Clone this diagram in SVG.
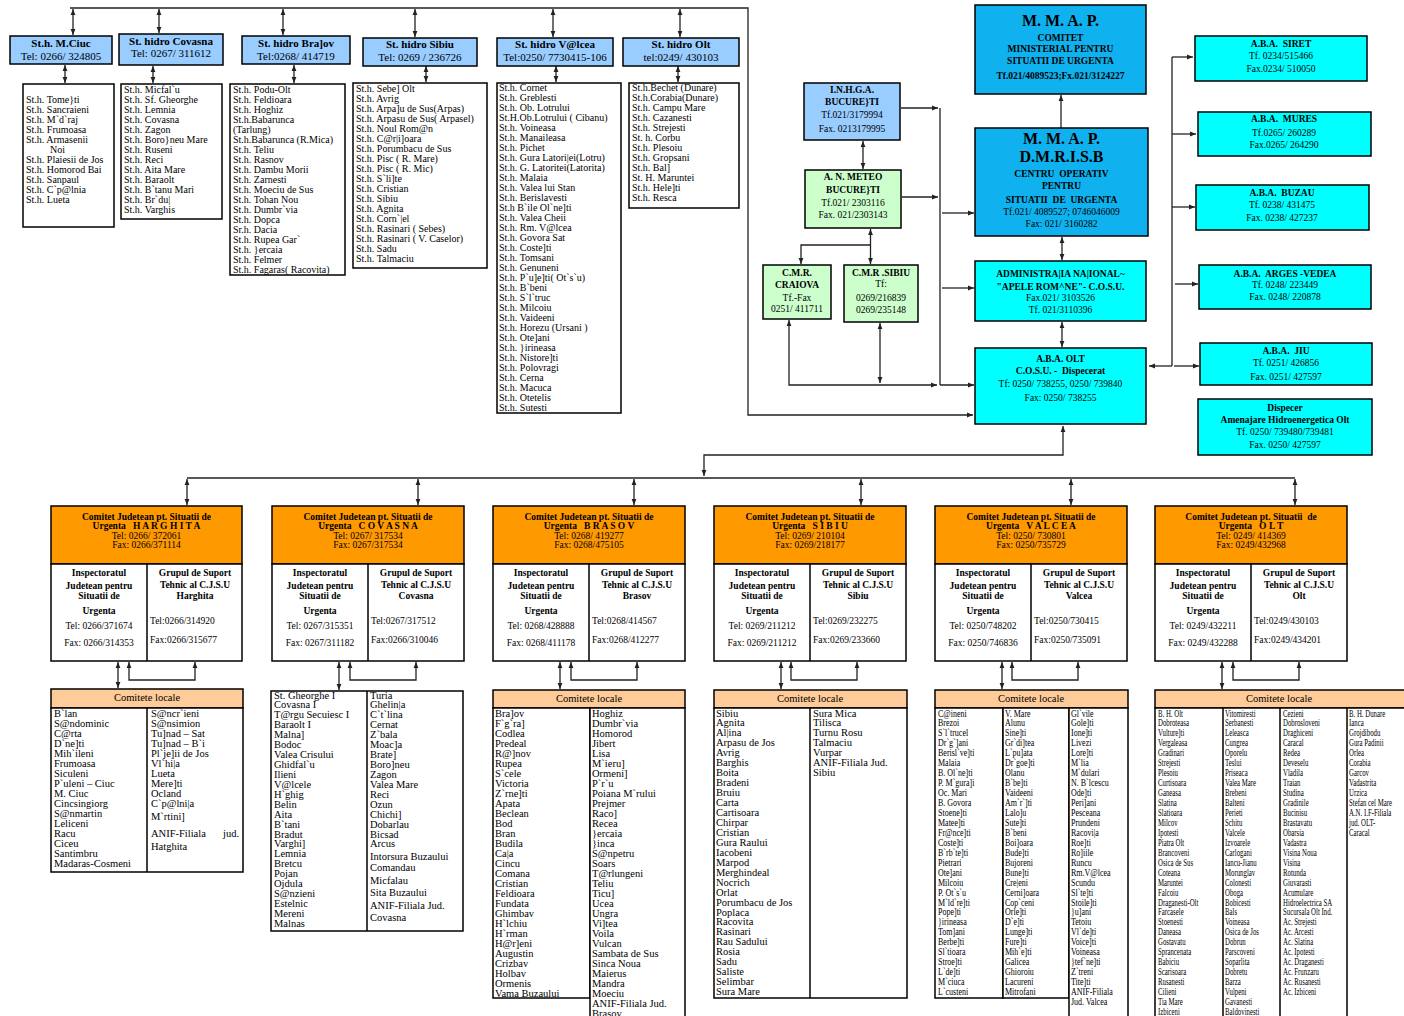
<svg xmlns="http://www.w3.org/2000/svg" width="1404" height="1016" viewBox="0 0 1404 1016">
<style>
text{font-family:"Liberation Serif","Times New Roman",serif;fill:#000;font-size:10px}
.bx{stroke:#000;stroke-width:1.5}
.lb{fill:#99CCFF}.gr{fill:#CCFFCC}.sb{fill:#0FB2EE}.cy{fill:#00FFFF}.or{fill:#FF9900}.ph{fill:#FFCC99}.wh{fill:#fff}
.c{text-anchor:middle}.b{font-weight:bold}
.t11{font-size:11px}.t95{font-size:9.5px}.t105{font-size:10.5px}.t15{font-size:16px}
.cn{stroke:#222;stroke-width:1.3;fill:none}
.ln{stroke:#000;stroke-width:1.5;fill:none}
</style>
<defs>
<marker id="a" viewBox="0 0 10 10" refX="10" refY="5" markerWidth="6" markerHeight="6" markerUnits="userSpaceOnUse" orient="auto-start-reverse"><path d="M0,1 L10,5 L0,9 z" fill="#222"/></marker>
</defs>
<rect width="1404" height="1016" fill="#fff"/>

<g id="connectors">
<path class="cn" d="M70,8 H748 V415 H973" marker-end="url(#a)"/>
<line class="cn" x1="73" y1="9" x2="73" y2="35" marker-start="url(#a)" marker-end="url(#a)"/>
<line class="cn" x1="159" y1="9" x2="159" y2="33" marker-start="url(#a)" marker-end="url(#a)"/>
<line class="cn" x1="283" y1="9" x2="283" y2="35" marker-start="url(#a)" marker-end="url(#a)"/>
<line class="cn" x1="415" y1="9" x2="415" y2="37" marker-start="url(#a)" marker-end="url(#a)"/>
<line class="cn" x1="553" y1="9" x2="553" y2="37" marker-start="url(#a)" marker-end="url(#a)"/>
<line class="cn" x1="680" y1="9" x2="680" y2="37" marker-start="url(#a)" marker-end="url(#a)"/>
<line class="cn" x1="65" y1="65" x2="65" y2="83" marker-start="url(#a)" marker-end="url(#a)"/>
<line class="cn" x1="153" y1="66" x2="153" y2="83" marker-start="url(#a)" marker-end="url(#a)"/>
<line class="cn" x1="294" y1="65" x2="294" y2="83" marker-start="url(#a)" marker-end="url(#a)"/>
<line class="cn" x1="426" y1="66" x2="426" y2="82" marker-start="url(#a)" marker-end="url(#a)"/>
<line class="cn" x1="556" y1="66" x2="556" y2="82" marker-start="url(#a)" marker-end="url(#a)"/>
<line class="cn" x1="678" y1="66" x2="678" y2="82" marker-start="url(#a)" marker-end="url(#a)"/>
<line class="cn" x1="1061" y1="128" x2="1061" y2="95" marker-end="url(#a)"/>
<line class="cn" x1="1062" y1="237" x2="1062" y2="260" marker-start="url(#a)" marker-end="url(#a)"/>
<line class="cn" x1="1062" y1="322" x2="1062" y2="347" marker-start="url(#a)" marker-end="url(#a)"/>
<line class="cn" x1="901" y1="108" x2="938" y2="108" marker-end="url(#a)"/>
<line class="cn" x1="940" y1="108" x2="940" y2="385"/>
<line class="cn" x1="902" y1="197" x2="938" y2="197" marker-end="url(#a)"/>
<line class="cn" x1="942" y1="213" x2="974" y2="213" marker-end="url(#a)"/>
<line class="cn" x1="942" y1="288" x2="974" y2="288" marker-end="url(#a)"/>
<line class="cn" x1="940" y1="385" x2="974" y2="385" marker-end="url(#a)"/>
<line class="cn" x1="863" y1="141" x2="863" y2="169" marker-start="url(#a)" marker-end="url(#a)"/>
<line class="cn" x1="870.5" y1="229" x2="870.5" y2="264" marker-start="url(#a)" marker-end="url(#a)"/>
<path class="cn" d="M870.5,245 H801 V264" marker-end="url(#a)"/>
<path class="cn" d="M789,320 V385 H937" marker-start="url(#a)" marker-end="url(#a)"/>
<line class="cn" x1="880" y1="323" x2="880" y2="383" marker-start="url(#a)" marker-end="url(#a)"/>
<line class="cn" x1="1172" y1="366" x2="1149" y2="366" marker-end="url(#a)"/>
<line class="cn" x1="1172" y1="57" x2="1172" y2="366"/>
<line class="cn" x1="1172" y1="57" x2="1193" y2="57" marker-end="url(#a)"/>
<line class="cn" x1="1172" y1="134" x2="1196" y2="134" marker-end="url(#a)"/>
<line class="cn" x1="1172" y1="207" x2="1195" y2="207" marker-end="url(#a)"/>
<line class="cn" x1="1175" y1="284" x2="1198" y2="284" marker-end="url(#a)"/>
<line class="cn" x1="1174" y1="366" x2="1199" y2="366" marker-end="url(#a)"/>
<path class="cn" d="M704,476 V455 H1063 V426" marker-start="url(#a)" marker-end="url(#a)"/>
<line class="cn" x1="187" y1="478" x2="1295" y2="478"/>
<line class="cn" x1="187" y1="479" x2="187" y2="505" marker-start="url(#a)" marker-end="url(#a)"/>
<line class="cn" x1="418" y1="479" x2="418" y2="505" marker-start="url(#a)" marker-end="url(#a)"/>
<line class="cn" x1="634" y1="479" x2="634" y2="505" marker-start="url(#a)" marker-end="url(#a)"/>
<line class="cn" x1="861" y1="479" x2="861" y2="505" marker-start="url(#a)" marker-end="url(#a)"/>
<line class="cn" x1="1071" y1="479" x2="1071" y2="505" marker-start="url(#a)" marker-end="url(#a)"/>
<line class="cn" x1="1295" y1="479" x2="1295" y2="505" marker-start="url(#a)" marker-end="url(#a)"/>
<line class="cn" x1="118" y1="662" x2="118" y2="688" marker-start="url(#a)" marker-end="url(#a)"/>
<path class="cn" d="M129,662 V680 H195 V662" marker-start="url(#a)" marker-end="url(#a)"/>
<line class="cn" x1="339" y1="662" x2="339" y2="690" marker-start="url(#a)" marker-end="url(#a)"/>
<path class="cn" d="M350,662 V680 H416 V662" marker-start="url(#a)" marker-end="url(#a)"/>
<line class="cn" x1="560" y1="662" x2="560" y2="689" marker-start="url(#a)" marker-end="url(#a)"/>
<path class="cn" d="M571,662 V680 H637 V662" marker-start="url(#a)" marker-end="url(#a)"/>
<line class="cn" x1="781" y1="662" x2="781" y2="689" marker-start="url(#a)" marker-end="url(#a)"/>
<path class="cn" d="M791,662 V680 H857 V662" marker-start="url(#a)" marker-end="url(#a)"/>
<line class="cn" x1="1002" y1="662" x2="1002" y2="689" marker-start="url(#a)" marker-end="url(#a)"/>
<path class="cn" d="M1012,662 V680 H1078 V662" marker-start="url(#a)" marker-end="url(#a)"/>
<line class="cn" x1="1222" y1="662" x2="1222" y2="689" marker-start="url(#a)" marker-end="url(#a)"/>
<path class="cn" d="M1233,662 V680 H1299 V662" marker-start="url(#a)" marker-end="url(#a)"/>
</g>

<g id="st-miercurea-ciuc">
<rect class="bx lb" x="10" y="36" width="102" height="28"/>
<text class="c b t11" x="61" y="47">St.h. M.Ciuc</text>
<text class="c t11" x="61" y="60">Tel: 0266/ 324805</text>
</g>
<g id="st-covasna">
<rect class="bx lb" x="119" y="34" width="104" height="31"/>
<text class="c b t11" x="171" y="45">St. hidro Covasna</text>
<text class="c t11" x="171" y="57">Tel: 0267/ 311612</text>
</g>
<g id="st-brasov">
<rect class="bx lb" x="242" y="36" width="108" height="28"/>
<text class="c b t11" x="296" y="47">St. hidro Bra]ov</text>
<text class="c t11" x="296" y="60">Tel:0268/ 414719</text>
</g>
<g id="st-sibiu">
<rect class="bx lb" x="363" y="38" width="114" height="28"/>
<text class="c b t11" x="420" y="48">St. hidro Sibiu</text>
<text class="c t11" x="420" y="61">Tel: 0269 / 236726</text>
</g>
<g id="st-valcea">
<rect class="bx lb" x="497" y="38" width="116" height="28"/>
<text class="c b t11" x="555" y="48">St. hidro V@lcea</text>
<text class="c t11" x="555" y="61">Tel:0250/ 7730415-106</text>
</g>
<g id="st-olt">
<rect class="bx lb" x="623" y="38" width="116" height="28"/>
<text class="c b t11" x="681" y="48">St. hidro Olt</text>
<text class="c t11" x="681" y="61">tel:0249/ 430103</text>
</g>

<g id="list-harghita-st">
<rect class="bx wh" x="23" y="84" width="91" height="143"/>
<text x="26" y="102.5"><tspan x="26">St.h. Tome}ti</tspan><tspan x="26" dy="10">St.h. Sancraieni</tspan><tspan x="26" dy="10">St.h. M`d`raj</tspan><tspan x="26" dy="10">St.h. Frumoasa</tspan><tspan x="26" dy="10">St.h. Armasenii</tspan><tspan x="50" dy="10">Noi</tspan><tspan x="26" dy="10">St.h. Plaiesii de Jos</tspan><tspan x="26" dy="10">St.h. Homorod Bai</tspan><tspan x="26" dy="10">St.h. Sanpaul</tspan><tspan x="26" dy="10">St.h. C`p@lnia</tspan><tspan x="26" dy="10">St.h. Lueta</tspan></text>
</g>
<g id="list-covasna-st">
<rect class="bx wh" x="121" y="84" width="101" height="135"/>
<text x="124" y="92.5"><tspan x="124">St.h. Micfal`u</tspan><tspan x="124" dy="10">St.h. Sf. Gheorghe</tspan><tspan x="124" dy="10">St.h. Lemnia</tspan><tspan x="124" dy="10">St.h. Covasna</tspan><tspan x="124" dy="10">St.h. Zagon</tspan><tspan x="124" dy="10">St.h. Boro}neu Mare</tspan><tspan x="124" dy="10">St.h. Ruseni</tspan><tspan x="124" dy="10">St.h. Reci</tspan><tspan x="124" dy="10">St.h. Aita Mare</tspan><tspan x="124" dy="10">St.h. Baraolt</tspan><tspan x="124" dy="10">St.h. B`tanu Mari</tspan><tspan x="124" dy="10">St.h. Br`du|</tspan><tspan x="124" dy="10">St.h. Varghis</tspan></text>
</g>
<g id="list-brasov-st">
<rect class="bx wh" x="230" y="84" width="115" height="191"/>
<text x="233" y="92.5"><tspan x="233">St.h. Podu-Olt</tspan><tspan x="233" dy="10">St.h. Feldioara</tspan><tspan x="233" dy="10">St.h. Hoghiz</tspan><tspan x="233" dy="10">St.h.Babarunca</tspan><tspan x="233" dy="10">(Tarlung)</tspan><tspan x="233" dy="10">St.h.Babarunca (R.Mica)</tspan><tspan x="233" dy="10">St.h. Teliu</tspan><tspan x="233" dy="10">St.h. Rasnov</tspan><tspan x="233" dy="10">St.h. Dambu Morii</tspan><tspan x="233" dy="10">St.h. Zarnesti</tspan><tspan x="233" dy="10">St.h. Moeciu de Sus</tspan><tspan x="233" dy="10">St.h. Tohan Nou</tspan><tspan x="233" dy="10">St.h. Dumbr`via</tspan><tspan x="233" dy="10">St.h. Dopca</tspan><tspan x="233" dy="10">Sr.h. Dacia</tspan><tspan x="233" dy="10">St.h. Rupea Gar`</tspan><tspan x="233" dy="10">St.h. }ercaia</tspan><tspan x="233" dy="10">St.h. Felmer</tspan><tspan x="233" dy="10">St.h. Fagaras( Racovita)</tspan></text>
</g>
<g id="list-sibiu-st">
<rect class="bx wh" x="353" y="83" width="134" height="185"/>
<text x="356" y="91.5"><tspan x="356">St.h. Sebe] Olt</tspan><tspan x="356" dy="10">St.h. Avrig</tspan><tspan x="356" dy="10">St.h. Arpa]u de Sus(Arpas)</tspan><tspan x="356" dy="10">St.h. Arpasu de Sus( Arpasel)</tspan><tspan x="356" dy="10">St.h. Noul Rom@n</tspan><tspan x="356" dy="10">St.h. C@r|i]oara</tspan><tspan x="356" dy="10">St.h. Porumbacu de Sus</tspan><tspan x="356" dy="10">St.h. Pisc ( R. Mare)</tspan><tspan x="356" dy="10">St.h. Pisc ( R. Mic)</tspan><tspan x="356" dy="10">St.h. S`li]te</tspan><tspan x="356" dy="10">St.h. Cristian</tspan><tspan x="356" dy="10">St.h. Sibiu</tspan><tspan x="356" dy="10">St.h. Agnita</tspan><tspan x="356" dy="10">St.h. Corn`|el</tspan><tspan x="356" dy="10">St.h. Rasinari ( Sebes)</tspan><tspan x="356" dy="10">St.h. Rasinari ( V. Caselor)</tspan><tspan x="356" dy="10">St.h. Sadu</tspan><tspan x="356" dy="10">St.h. Talmaciu</tspan></text>
</g>
<g id="list-valcea-st">
<rect class="bx wh" x="497" y="83" width="124" height="330"/>
<text x="499" y="90.5"><tspan x="499">St.h. Cornet</tspan><tspan x="499" dy="10">St.h. Greblesti</tspan><tspan x="499" dy="10">St.h. Ob. Lotrului</tspan><tspan x="499" dy="10">St.H.Ob.Lotrului ( Cibanu)</tspan><tspan x="499" dy="10">St.h. Voineasa</tspan><tspan x="499" dy="10">St.h. Manaileasa</tspan><tspan x="499" dy="10">St.h. Pichet</tspan><tspan x="499" dy="10">St.h. Gura Latori|ei(Lotru)</tspan><tspan x="499" dy="10">St.h. G. Latoritei(Latorita)</tspan><tspan x="499" dy="10">St.h. Malaia</tspan><tspan x="499" dy="10">St.h. Valea lui Stan</tspan><tspan x="499" dy="10">St.h. Berislavesti</tspan><tspan x="499" dy="10">St.h B`ile Ol`ne]ti</tspan><tspan x="499" dy="10">St.h. Valea Cheii</tspan><tspan x="499" dy="10">St.h. Rm. V@lcea</tspan><tspan x="499" dy="10">St.h. Govora Sat</tspan><tspan x="499" dy="10">St.h. Coste]ti</tspan><tspan x="499" dy="10">St.h. Tomsani</tspan><tspan x="499" dy="10">St.h. Genuneni</tspan><tspan x="499" dy="10">St.h. P`u]e]ti( Ot`s`u)</tspan><tspan x="499" dy="10">St.h. B`beni</tspan><tspan x="499" dy="10">St.h. S`l`truc</tspan><tspan x="499" dy="10">St.h. Milcoiu</tspan><tspan x="499" dy="10">St.h. Vaideeni</tspan><tspan x="499" dy="10">St.h. Horezu (Ursani )</tspan><tspan x="499" dy="10">St.h. Ote]ani</tspan><tspan x="499" dy="10">St.h. }irineasa</tspan><tspan x="499" dy="10">St.h. Nistore]ti</tspan><tspan x="499" dy="10">St.h. Polovragi</tspan><tspan x="499" dy="10">St.h. Cerna</tspan><tspan x="499" dy="10">St.h. Macuca</tspan><tspan x="499" dy="10">St.h. Otetelis</tspan><tspan x="499" dy="10">St.h. Sutesti</tspan></text>
</g>
<g id="list-olt-st">
<rect class="bx wh" x="629" y="83" width="110" height="125"/>
<text x="632" y="90.5"><tspan x="632">St.h.Bechet (Dunare)</tspan><tspan x="632" dy="10">St.h.Corabia(Dunare)</tspan><tspan x="632" dy="10">St.h. Campu Mare</tspan><tspan x="632" dy="10">St.h. Cazanesti</tspan><tspan x="632" dy="10">St.h. Strejesti</tspan><tspan x="632" dy="10">St. h. Corbu</tspan><tspan x="632" dy="10">St.h. Plesoiu</tspan><tspan x="632" dy="10">St.h. Gropsani</tspan><tspan x="632" dy="10">St.h. Bal]</tspan><tspan x="632" dy="10">St. H. Maruntei</tspan><tspan x="632" dy="10">St.h. Hele]ti</tspan><tspan x="632" dy="10">St.h. Resca</tspan></text>
</g>

<g id="mmap-comitet">
<rect class="bx sb" x="975" y="5" width="171" height="89"/>
<text class="c b t15" x="1060.5" y="26">M. M. A. P.</text>
<text class="c b t95" x="1060.5" y="40.5">COMITET</text>
<text class="c b t95" x="1060.5" y="52">MINISTERIAL PENTRU</text>
<text class="c b t95" x="1060.5" y="64">SITUATII DE URGENTA</text>
<text class="c b t95" x="1060.5" y="78.5">Tf.021/4089523;Fx.021/3124227</text>
</g>
<g id="mmap-dmrisb">
<rect class="bx sb" x="975" y="128" width="173" height="108"/>
<text class="c b t15" x="1061.5" y="144">M. M. A. P.</text>
<text class="c b t15" x="1061.5" y="162">D.M.R.I.S.B</text>
<text class="c b t95" x="1061.5" y="176.5">CENTRU&#160; OPERATIV</text>
<text class="c b t95" x="1061.5" y="188.5">PENTRU</text>
<text class="c b t95" x="1061.5" y="202.5">SITUATII&#160; DE&#160; URGENTA</text>
<text class="c t95" x="1061.5" y="214.5">Tf.021/ 4089527; 0746046009</text>
<text class="c t95" x="1061.5" y="226.5">Fax: 021/ 3160282</text>
</g>
<g id="anar">
<rect class="bx cy" x="975" y="261" width="171" height="60"/>
<text class="c b t95" x="1060.5" y="276.5">ADMINISTRA|IA NA|IONAL~</text>
<text class="c b t95" x="1060.5" y="289.5">"APELE ROM^NE"- C.O.S.U.</text>
<text class="c t95" x="1060.5" y="300.5">Fax.021/ 3103526</text>
<text class="c t95" x="1060.5" y="312.5">Tf. 021/3110396</text>
</g>
<g id="aba-olt">
<rect class="bx cy" x="975" y="348" width="171" height="76"/>
<text class="c b t95" x="1060.5" y="361.5">A.B.A. OLT</text>
<text class="c b t95" x="1060.5" y="373.5">C.O.S.U. -&#160; Dispecerat</text>
<text class="c t95" x="1060.5" y="386.5">Tf: 0250/ 738255, 0250/ 739840</text>
<text class="c t95" x="1060.5" y="400.5">Fax: 0250/ 738255</text>
</g>
<g id="inhga">
<rect class="bx lb" x="804" y="83" width="96" height="57"/>
<text class="c b t95" x="852" y="92.5">I.N.H.G.A.</text>
<text class="c b t95" x="852" y="104.5">BUCURE}TI</text>
<text class="c t95" x="852" y="117.5">Tf.021/3179994</text>
<text class="c t95" x="852" y="131.5">Fax. 0213179995</text>
</g>
<g id="anmeteo">
<rect class="bx gr" x="805" y="170" width="96" height="58"/>
<text class="c b t95" x="853" y="179.5">A. N. METEO</text>
<text class="c b t95" x="853" y="192.5">BUCURE}TI</text>
<text class="c t95" x="853" y="205.5">Tf.021/ 2303116</text>
<text class="c t95" x="853" y="217.5">Fax. 021/2303143</text>
</g>
<g id="cmr-craiova">
<rect class="bx gr" x="763" y="265" width="68" height="54"/>
<text class="c b t95" x="797" y="275.5">C.M.R.</text>
<text class="c b t95" x="797" y="287.5">CRAIOVA</text>
<text class="c t95" x="797" y="300.5">Tf.-Fax</text>
<text class="c t95" x="797" y="311.5">0251/ 411711</text>
</g>
<g id="cmr-sibiu">
<rect class="bx gr" x="844" y="265" width="74" height="57"/>
<text class="c b t95" x="881" y="275.5">C.M.R .SIBIU</text>
<text class="c t95" x="881" y="286.5">Tf:</text>
<text class="c t95" x="881" y="300.5">0269/216839</text>
<text class="c t95" x="881" y="312.5">0269/235148</text>
</g>

<g id="aba-siret">
<rect class="bx cy" x="1195" y="36" width="172" height="45"/>
<text class="c b t95" x="1281" y="46.5">A.B.A.&#160; SIRET</text>
<text class="c t95" x="1281" y="58.5">Tf. 0234/515466</text>
<text class="c t95" x="1281" y="71.5">Fax.0234/ 510050</text>
</g>
<g id="aba-mures">
<rect class="bx cy" x="1198" y="112" width="173" height="44"/>
<text class="c b t95" x="1284" y="121.5">A.B.A.&#160; MURES</text>
<text class="c t95" x="1284" y="135.5">Tf.0265/ 260289</text>
<text class="c t95" x="1284" y="147.5">Fax.0265/ 264290</text>
</g>
<g id="aba-buzau">
<rect class="bx cy" x="1196" y="185" width="173" height="45"/>
<text class="c b t95" x="1282" y="195.5">A.B.A.&#160; BUZAU</text>
<text class="c t95" x="1282" y="207.5">Tf. 0238/ 431475</text>
<text class="c t95" x="1282" y="220.5">Fax. 0238/ 427237</text>
</g>
<g id="aba-arges">
<rect class="bx cy" x="1199" y="265" width="172" height="44"/>
<text class="c b t95" x="1285" y="276.5">A.B.A.&#160; ARGES -VEDEA</text>
<text class="c t95" x="1285" y="287.5">Tf. 0248/ 223449</text>
<text class="c t95" x="1285" y="299.5">Fax. 0248/ 220878</text>
</g>
<g id="aba-jiu">
<rect class="bx cy" x="1200" y="343" width="172" height="42"/>
<text class="c b t95" x="1286" y="353.5">A.B.A.&#160; JIU</text>
<text class="c t95" x="1286" y="365.5">Tf. 0251/ 426856</text>
<text class="c t95" x="1286" y="379.5">Fax. 0251/ 427597</text>
</g>
<g id="dispecer">
<rect class="bx cy" x="1198" y="399" width="174" height="56"/>
<text class="c b t95" x="1285" y="410.5">Dispecer</text>
<text class="c b t95" x="1285" y="422.5">Amenajare Hidroenergetica Olt</text>
<text class="c t95" x="1285" y="434.5">Tf. 0250/ 739480/739481</text>
<text class="c t95" x="1285" y="447.5">Fax. 0250/ 427597</text>
</g>

<g id="cjsu-harghita">
<rect class="bx or" x="51" y="506" width="191" height="58"/>
<rect class="bx wh" x="51" y="564" width="191" height="97"/>
<line class="ln" x1="147" y1="564" x2="147" y2="661"/>
<text class="c b t95" x="146.5" y="519.5">Comitet Judetean pt. Situatii de</text>
<text class="c b t95" x="146.5" y="528.5">Urgenta&#160;&#160; H A R G H I T A</text>
<text class="c t95" x="146.5" y="538.5">Tel: 0266/ 372061</text>
<text class="c t95" x="146.5" y="547.5">Fax: 0266/371114</text>
<text class="c b t95" x="99" y="575.5">Inspectoratul</text>
<text class="c b t95" x="99" y="588.5">Judetean pentru</text>
<text class="c b t95" x="99" y="599">Situatii de</text>
<text class="c b t95" x="99" y="613.5">Urgenta</text>
<text class="c t95" x="99" y="629">Tel: 0266/371674</text>
<text class="c t95" x="99" y="645.5">Fax: 0266/314353</text>
<text class="c b t95" x="195" y="575.5">Grupul de Suport</text>
<text class="c b t95" x="195" y="587.5">Tehnic al C.J.S.U</text>
<text class="c b t95" x="195" y="598.5">Harghita</text>
<text class="t95" x="150" y="624">Tel:0266/314920</text>
<text class="t95" x="150" y="642.5">Fax:0266/315677</text>
</g>
<g id="cjsu-covasna">
<rect class="bx or" x="272" y="506" width="192" height="58"/>
<rect class="bx wh" x="272" y="564" width="192" height="97"/>
<line class="ln" x1="368" y1="564" x2="368" y2="661"/>
<text class="c b t95" x="368" y="519.5">Comitet Judetean pt. Situatii de</text>
<text class="c b t95" x="368" y="528.5">Urgenta&#160;&#160; C O V A S N A</text>
<text class="c t95" x="368" y="538.5">Tel: 0267/ 317534</text>
<text class="c t95" x="368" y="547.5">Fax: 0267/317534</text>
<text class="c b t95" x="320" y="575.5">Inspectoratul</text>
<text class="c b t95" x="320" y="588.5">Judetean pentru</text>
<text class="c b t95" x="320" y="599">Situatii de</text>
<text class="c b t95" x="320" y="613.5">Urgenta</text>
<text class="c t95" x="320" y="629">Tel: 0267/315351</text>
<text class="c t95" x="320" y="645.5">Fax: 0267/311182</text>
<text class="c b t95" x="416" y="575.5">Grupul de Suport</text>
<text class="c b t95" x="416" y="587.5">Tehnic al C.J.S.U</text>
<text class="c b t95" x="416" y="598.5">Covasna</text>
<text class="t95" x="371" y="624">Tel:0267/317512</text>
<text class="t95" x="371" y="642.5">Fax:0266/310046</text>
</g>
<g id="cjsu-brasov">
<rect class="bx or" x="493" y="506" width="192" height="58"/>
<rect class="bx wh" x="493" y="564" width="192" height="97"/>
<line class="ln" x1="589" y1="564" x2="589" y2="661"/>
<text class="c b t95" x="589" y="519.5">Comitet Judetean pt. Situatii de</text>
<text class="c b t95" x="589" y="528.5">Urgenta&#160;&#160; B R A S O V</text>
<text class="c t95" x="589" y="538.5">Tel: 0268/ 419277</text>
<text class="c t95" x="589" y="547.5">Fax: 0268/475105</text>
<text class="c b t95" x="541" y="575.5">Inspectoratul</text>
<text class="c b t95" x="541" y="588.5">Judetean pentru</text>
<text class="c b t95" x="541" y="599">Situatii de</text>
<text class="c b t95" x="541" y="613.5">Urgenta</text>
<text class="c t95" x="541" y="629">Tel: 0268/428888</text>
<text class="c t95" x="541" y="645.5">Fax: 0268/411178</text>
<text class="c b t95" x="637" y="575.5">Grupul de Suport</text>
<text class="c b t95" x="637" y="587.5">Tehnic al C.J.S.U</text>
<text class="c b t95" x="637" y="598.5">Brasov</text>
<text class="t95" x="592" y="624">Tel:0268/414567</text>
<text class="t95" x="592" y="642.5">Fax:0268/412277</text>
</g>
<g id="cjsu-sibiu">
<rect class="bx or" x="714" y="506" width="192" height="58"/>
<rect class="bx wh" x="714" y="564" width="192" height="97"/>
<line class="ln" x1="810" y1="564" x2="810" y2="661"/>
<text class="c b t95" x="810" y="519.5">Comitet Judetean pt. Situatii de</text>
<text class="c b t95" x="810" y="528.5">Urgenta&#160;&#160; S I B I U</text>
<text class="c t95" x="810" y="538.5">Tel: 0269/ 210104</text>
<text class="c t95" x="810" y="547.5">Fax: 0269/218177</text>
<text class="c b t95" x="762" y="575.5">Inspectoratul</text>
<text class="c b t95" x="762" y="588.5">Judetean pentru</text>
<text class="c b t95" x="762" y="599">Situatii de</text>
<text class="c b t95" x="762" y="613.5">Urgenta</text>
<text class="c t95" x="762" y="629">Tel: 0269/211212</text>
<text class="c t95" x="762" y="645.5">Fax: 0269/211212</text>
<text class="c b t95" x="858" y="575.5">Grupul de Suport</text>
<text class="c b t95" x="858" y="587.5">Tehnic al C.J.S.U</text>
<text class="c b t95" x="858" y="598.5">Sibiu</text>
<text class="t95" x="813" y="624">Tel:0269/232275</text>
<text class="t95" x="813" y="642.5">Fax:0269/233660</text>
</g>
<g id="cjsu-valcea">
<rect class="bx or" x="935" y="506" width="192" height="58"/>
<rect class="bx wh" x="935" y="564" width="192" height="97"/>
<line class="ln" x1="1031" y1="564" x2="1031" y2="661"/>
<text class="c b t95" x="1031" y="519.5">Comitet Judetean pt. Situatii de</text>
<text class="c b t95" x="1031" y="528.5">Urgenta&#160;&#160; V A L C E A</text>
<text class="c t95" x="1031" y="538.5">Tel: 0250/ 730801</text>
<text class="c t95" x="1031" y="547.5">Fax: 0250/735729</text>
<text class="c b t95" x="983" y="575.5">Inspectoratul</text>
<text class="c b t95" x="983" y="588.5">Judetean pentru</text>
<text class="c b t95" x="983" y="599">Situatii de</text>
<text class="c b t95" x="983" y="613.5">Urgenta</text>
<text class="c t95" x="983" y="629">Tel: 0250/748202</text>
<text class="c t95" x="983" y="645.5">Fax: 0250/746836</text>
<text class="c b t95" x="1079" y="575.5">Grupul de Suport</text>
<text class="c b t95" x="1079" y="587.5">Tehnic al C.J.S.U</text>
<text class="c b t95" x="1079" y="598.5">Valcea</text>
<text class="t95" x="1034" y="624">Tel:0250/730415</text>
<text class="t95" x="1034" y="642.5">Fax:0250/735091</text>
</g>
<g id="cjsu-olt">
<rect class="bx or" x="1155" y="506" width="192" height="58"/>
<rect class="bx wh" x="1155" y="564" width="192" height="97"/>
<line class="ln" x1="1251" y1="564" x2="1251" y2="661"/>
<text class="c b t95" x="1251" y="519.5">Comitet Judetean pt. Situatii&#160; de</text>
<text class="c b t95" x="1251" y="528.5">Urgenta&#160;&#160; O L T</text>
<text class="c t95" x="1251" y="538.5">Tel: 0249/ 414369</text>
<text class="c t95" x="1251" y="547.5">Fax: 0249/432968</text>
<text class="c b t95" x="1203" y="575.5">Inspectoratul</text>
<text class="c b t95" x="1203" y="588.5">Judetean pentru</text>
<text class="c b t95" x="1203" y="599">Situatii de</text>
<text class="c b t95" x="1203" y="613.5">Urgenta</text>
<text class="c t95" x="1203" y="629">Tel: 0249/432211</text>
<text class="c t95" x="1203" y="645.5">Fax: 0249/432288</text>
<text class="c b t95" x="1299" y="575.5">Grupul de Suport</text>
<text class="c b t95" x="1299" y="587.5">Tehnic al C.J.S.U</text>
<text class="c b t95" x="1299" y="598.5">Olt</text>
<text class="t95" x="1254" y="624">Tel:0249/430103</text>
<text class="t95" x="1254" y="642.5">Fax:0249/434201</text>
</g>

<g id="cl-harghita">
<rect class="bx ph" x="51" y="689" width="192" height="19"/>
<rect class="bx wh" x="51" y="708" width="192" height="164"/>
<line class="ln" x1="147" y1="708" x2="147" y2="872"/>
<text class="c t105" x="147" y="701">Comitete locale</text>
<text class="t105" x="54" y="716.5"><tspan x="54">B`lan</tspan><tspan x="54" dy="10">S@ndominic</tspan><tspan x="54" dy="10">C@rta</tspan><tspan x="54" dy="10">D`ne]ti</tspan><tspan x="54" dy="10">Mih`ileni</tspan><tspan x="54" dy="10">Frumoasa</tspan><tspan x="54" dy="10">Siculeni</tspan><tspan x="54" dy="10">P`uleni – Ciuc</tspan><tspan x="54" dy="10">M. Ciuc</tspan><tspan x="54" dy="10">Cincsingiorg</tspan><tspan x="54" dy="10">S@nmartin</tspan><tspan x="54" dy="10">Leliceni</tspan><tspan x="54" dy="10">Racu</tspan><tspan x="54" dy="10">Ciceu</tspan><tspan x="54" dy="10">Santimbru</tspan><tspan x="54" dy="10">Madaras-Cosmeni</tspan></text>
<text class="t105" x="151" y="716.5"><tspan x="151">S@ncr`ieni</tspan><tspan x="151" dy="10">S@nsimion</tspan><tspan x="151" dy="10">Tu]nad – Sat</tspan><tspan x="151" dy="10">Tu]nad – B`i</tspan><tspan x="151" dy="10">Pl`je]ii de Jos</tspan><tspan x="151" dy="10">Vl`hi|a</tspan><tspan x="151" dy="10">Lueta</tspan><tspan x="151" dy="10">Mere]ti</tspan><tspan x="151" dy="10">Ocland</tspan><tspan x="151" dy="10">C`p@lni|a</tspan><tspan x="151" dy="13">M`rtini]</tspan><tspan x="151" dy="17">ANIF-Filiala</tspan><tspan x="151" dy="13">Hatghita</tspan></text>
<text class="t105" x="223" y="836.5">jud.</text>
</g>
<g id="cl-covasna">
<rect class="bx wh" x="271" y="691" width="192" height="240"/>
<line class="ln" x1="367" y1="691" x2="367" y2="931"/>
<text class="t105" x="274" y="698.5"><tspan x="274">St. Gheorghe I</tspan><tspan x="274" dy="9.93">Covasna I</tspan><tspan x="274" dy="9.93">T@rgu Secuiesc I</tspan><tspan x="274" dy="9.93">Baraolt I</tspan><tspan x="274" dy="9.93">Malna]</tspan><tspan x="274" dy="9.93">Bodoc</tspan><tspan x="274" dy="9.93">Valea Crisului</tspan><tspan x="274" dy="9.93">Ghidfal`u</tspan><tspan x="274" dy="9.93">Ilieni</tspan><tspan x="274" dy="9.93">V@lcele</tspan><tspan x="274" dy="9.93">H`ghig</tspan><tspan x="274" dy="9.93">Belin</tspan><tspan x="274" dy="9.93">Aita</tspan><tspan x="274" dy="9.93">B`tani</tspan><tspan x="274" dy="9.93">Bradut</tspan><tspan x="274" dy="9.93">Varghi]</tspan><tspan x="274" dy="9.93">Lemnia</tspan><tspan x="274" dy="9.93">Bretcu</tspan><tspan x="274" dy="9.93">Pojan</tspan><tspan x="274" dy="9.93">Ojdula</tspan><tspan x="274" dy="9.93">S@nzieni</tspan><tspan x="274" dy="9.93">Estelnic</tspan><tspan x="274" dy="9.93">Mereni</tspan><tspan x="274" dy="9.93">Malnas</tspan></text>
<text class="t105" x="370" y="698.5"><tspan x="370">Turia</tspan><tspan x="370" dy="9.93">Ghelin|a</tspan><tspan x="370" dy="9.93">C`t`lina</tspan><tspan x="370" dy="9.93">Cernat</tspan><tspan x="370" dy="9.93">Z`bala</tspan><tspan x="370" dy="9.93">Moac]a</tspan><tspan x="370" dy="9.93">Brate]</tspan><tspan x="370" dy="9.93">Boro]neu</tspan><tspan x="370" dy="9.93">Zagon</tspan><tspan x="370" dy="9.93">Valea Mare</tspan><tspan x="370" dy="9.93">Reci</tspan><tspan x="370" dy="9.93">Ozun</tspan><tspan x="370" dy="9.93">Chichi]</tspan><tspan x="370" dy="9.93">Dobarlau</tspan><tspan x="370" dy="9.93">Bicsad</tspan><tspan x="370" dy="9.93">Arcus</tspan><tspan x="370" dy="12.5">Intorsura Buzaului</tspan><tspan x="370" dy="11.5">Comandau</tspan><tspan x="370" dy="13">Micfalau</tspan><tspan x="370" dy="12">Sita Buzaului</tspan><tspan x="370" dy="13">ANIF-Filiala Jud.</tspan><tspan x="370" dy="12">Covasna</tspan></text>
</g>
<g id="cl-brasov">
<rect class="bx ph" x="493" y="690" width="192" height="18"/>
<rect class="bx wh" x="493" y="708" width="97" height="290"/>
<rect class="bx wh" x="590" y="708" width="95" height="320"/>
<text class="c t105" x="589" y="702">Comitete locale</text>
<text class="t105" x="495" y="716.5"><tspan x="495">Bra]ov</tspan><tspan x="495" dy="10">F`g`ra]</tspan><tspan x="495" dy="10">Codlea</tspan><tspan x="495" dy="10">Predeal</tspan><tspan x="495" dy="10">R@]nov</tspan><tspan x="495" dy="10">Rupea</tspan><tspan x="495" dy="10">S`cele</tspan><tspan x="495" dy="10">Victoria</tspan><tspan x="495" dy="10">Z`rne]ti</tspan><tspan x="495" dy="10">Apata</tspan><tspan x="495" dy="10">Beclean</tspan><tspan x="495" dy="10">Bod</tspan><tspan x="495" dy="10">Bran</tspan><tspan x="495" dy="10">Budila</tspan><tspan x="495" dy="10">Ca|a</tspan><tspan x="495" dy="10">Cincu</tspan><tspan x="495" dy="10">Comana</tspan><tspan x="495" dy="10">Cristian</tspan><tspan x="495" dy="10">Feldioara</tspan><tspan x="495" dy="10">Fundata</tspan><tspan x="495" dy="10">Ghimbav</tspan><tspan x="495" dy="10">H`lchiu</tspan><tspan x="495" dy="10">H`rman</tspan><tspan x="495" dy="10">H@r]eni</tspan><tspan x="495" dy="10">Augustin</tspan><tspan x="495" dy="10">Crizbav</tspan><tspan x="495" dy="10">Holbav</tspan><tspan x="495" dy="10">Ormenis</tspan><tspan x="495" dy="10">Vama Buzaului</tspan></text>
<text class="t105" x="592" y="716.5"><tspan x="592">Hoghiz</tspan><tspan x="592" dy="10">Dumbr`via</tspan><tspan x="592" dy="10">Homorod</tspan><tspan x="592" dy="10">Jibert</tspan><tspan x="592" dy="10">Lisa</tspan><tspan x="592" dy="10">M`ieru]</tspan><tspan x="592" dy="10">Ormeni]</tspan><tspan x="592" dy="10">P`r`u</tspan><tspan x="592" dy="10">Poiana M`rului</tspan><tspan x="592" dy="10">Prejmer</tspan><tspan x="592" dy="10">Raco]</tspan><tspan x="592" dy="10">Recea</tspan><tspan x="592" dy="10">}ercaia</tspan><tspan x="592" dy="10">}inca</tspan><tspan x="592" dy="10">S@npetru</tspan><tspan x="592" dy="10">Soars</tspan><tspan x="592" dy="10">T@rlungeni</tspan><tspan x="592" dy="10">Teliu</tspan><tspan x="592" dy="10">Ticu]</tspan><tspan x="592" dy="10">Ucea</tspan><tspan x="592" dy="10">Ungra</tspan><tspan x="592" dy="10">Vi]tea</tspan><tspan x="592" dy="10">Voila</tspan><tspan x="592" dy="10">Vulcan</tspan><tspan x="592" dy="10">Sambata de Sus</tspan><tspan x="592" dy="10">Sinca Noua</tspan><tspan x="592" dy="10">Maierus</tspan><tspan x="592" dy="10">Mandra</tspan><tspan x="592" dy="10">Moeciu</tspan><tspan x="592" dy="10">ANIF-Filiala Jud.</tspan><tspan x="592" dy="10">Brasov</tspan></text>
</g>
<g id="cl-sibiu">
<rect class="bx ph" x="714" y="690" width="193" height="18"/>
<rect class="bx wh" x="714" y="708" width="193" height="290"/>
<line class="ln" x1="810" y1="708" x2="810" y2="998"/>
<text class="c t105" x="810" y="702">Comitete locale</text>
<text class="t105" x="716" y="716.5"><tspan x="716">Sibiu</tspan><tspan x="716" dy="9.95">Agnita</tspan><tspan x="716" dy="9.95">Al|ina</tspan><tspan x="716" dy="9.95">Arpasu de Jos</tspan><tspan x="716" dy="9.95">Avrig</tspan><tspan x="716" dy="9.95">Barghis</tspan><tspan x="716" dy="9.95">Boita</tspan><tspan x="716" dy="9.95">Bradeni</tspan><tspan x="716" dy="9.95">Bruiu</tspan><tspan x="716" dy="9.95">Carta</tspan><tspan x="716" dy="9.95">Cartisoara</tspan><tspan x="716" dy="9.95">Chirpar</tspan><tspan x="716" dy="9.95">Cristian</tspan><tspan x="716" dy="9.95">Gura Raului</tspan><tspan x="716" dy="9.95">Iacobeni</tspan><tspan x="716" dy="9.95">Marpod</tspan><tspan x="716" dy="9.95">Merghindeal</tspan><tspan x="716" dy="9.95">Nocrich</tspan><tspan x="716" dy="9.95">Orlat</tspan><tspan x="716" dy="9.95">Porumbacu de Jos</tspan><tspan x="716" dy="9.95">Poplaca</tspan><tspan x="716" dy="9.95">Racovita</tspan><tspan x="716" dy="9.95">Rasinari</tspan><tspan x="716" dy="9.95">Rau Sadului</tspan><tspan x="716" dy="9.95">Rosia</tspan><tspan x="716" dy="9.95">Sadu</tspan><tspan x="716" dy="9.95">Saliste</tspan><tspan x="716" dy="9.95">Selimbar</tspan><tspan x="716" dy="9.95">Sura Mare</tspan></text>
<text class="t105" x="813" y="716.5"><tspan x="813">Sura Mica</tspan><tspan x="813" dy="9.95">Tilisca</tspan><tspan x="813" dy="9.95">Turnu Rosu</tspan><tspan x="813" dy="9.95">Talmaciu</tspan><tspan x="813" dy="9.95">Vurpar</tspan><tspan x="813" dy="9.95">ANIF-Filiala Jud.</tspan><tspan x="813" dy="9.95">Sibiu</tspan></text>
</g>
<g id="cl-valcea">
<rect class="bx ph" x="935" y="690" width="193" height="18"/>
<rect class="bx wh" x="935" y="708" width="68" height="290"/>
<rect class="bx wh" x="1003" y="708" width="66" height="290"/>
<rect class="bx wh" x="1069" y="708" width="59" height="320"/>
<text class="c t105" x="1031" y="702">Comitete locale</text>
<text transform="translate(938,716.5) scale(0.8,1)"><tspan x="0" y="0">C@ineni</tspan><tspan x="0" dy="9.95">Brezoi</tspan><tspan x="0" dy="9.95">S`l`trucel</tspan><tspan x="0" dy="9.95">Dr`g`]ani</tspan><tspan x="0" dy="9.95">Berisl`ve]ti</tspan><tspan x="0" dy="9.95">Malaia</tspan><tspan x="0" dy="9.95">B. Ol`ne]ti</tspan><tspan x="0" dy="9.95">P. M`gura]i</tspan><tspan x="0" dy="9.95">Oc. Mari</tspan><tspan x="0" dy="9.95">B. Govora</tspan><tspan x="0" dy="9.95">Stoene]ti</tspan><tspan x="0" dy="9.95">Matee]ti</tspan><tspan x="0" dy="9.95">Fr@nce]ti</tspan><tspan x="0" dy="9.95">Coste]ti</tspan><tspan x="0" dy="9.95">B`rb`te]ti</tspan><tspan x="0" dy="9.95">Pietrari</tspan><tspan x="0" dy="9.95">Ote]ani</tspan><tspan x="0" dy="9.95">Milcoiu</tspan><tspan x="0" dy="9.95">P. Ot`s`u</tspan><tspan x="0" dy="9.95">M`ld`re]ti</tspan><tspan x="0" dy="9.95">Pope]ti</tspan><tspan x="0" dy="9.95">}irineasa</tspan><tspan x="0" dy="9.95">Tom]ani</tspan><tspan x="0" dy="9.95">Berbe]ti</tspan><tspan x="0" dy="9.95">Sl`tioara</tspan><tspan x="0" dy="9.95">Stroe]ti</tspan><tspan x="0" dy="9.95">L`de]ti</tspan><tspan x="0" dy="9.95">M`ciuca</tspan><tspan x="0" dy="9.95">L`custeni</tspan></text>
<text transform="translate(1005,716.5) scale(0.8,1)"><tspan x="0" y="0">V. Mare</tspan><tspan x="0" dy="9.95">Alunu</tspan><tspan x="0" dy="9.95">Sine]ti</tspan><tspan x="0" dy="9.95">Gr`di]tea</tspan><tspan x="0" dy="9.95">L`pu]ata</tspan><tspan x="0" dy="9.95">Dr`goe]ti</tspan><tspan x="0" dy="9.95">Olanu</tspan><tspan x="0" dy="9.95">B`be]ti</tspan><tspan x="0" dy="9.95">Vaideeni</tspan><tspan x="0" dy="9.95">Am`r`]ti</tspan><tspan x="0" dy="9.95">Lalo]u</tspan><tspan x="0" dy="9.95">Sute]ti</tspan><tspan x="0" dy="9.95">B`beni</tspan><tspan x="0" dy="9.95">Boi]oara</tspan><tspan x="0" dy="9.95">Bude]ti</tspan><tspan x="0" dy="9.95">Bujoreni</tspan><tspan x="0" dy="9.95">Bune]ti</tspan><tspan x="0" dy="9.95">Cre|eni</tspan><tspan x="0" dy="9.95">Cerni]oara</tspan><tspan x="0" dy="9.95">Cop`ceni</tspan><tspan x="0" dy="9.95">Orle]ti</tspan><tspan x="0" dy="9.95">D`e]ti</tspan><tspan x="0" dy="9.95">Lunge]ti</tspan><tspan x="0" dy="9.95">Fure]ti</tspan><tspan x="0" dy="9.95">Mih`e]ti</tspan><tspan x="0" dy="9.95">Galicea</tspan><tspan x="0" dy="9.95">Ghioroiu</tspan><tspan x="0" dy="9.95">Lacureni</tspan><tspan x="0" dy="9.95">Mitrofani</tspan></text>
<text transform="translate(1071,716.5) scale(0.8,1)"><tspan x="0" y="0">Gl`vile</tspan><tspan x="0" dy="9.95">Gole]ti</tspan><tspan x="0" dy="9.95">Ione]ti</tspan><tspan x="0" dy="9.95">Livezi</tspan><tspan x="0" dy="9.95">Lore]ti</tspan><tspan x="0" dy="9.95">M`lia</tspan><tspan x="0" dy="9.95">M`dulari</tspan><tspan x="0" dy="9.95">N. B`lcescu</tspan><tspan x="0" dy="9.95">Ode]ti</tspan><tspan x="0" dy="9.95">Peri]ani</tspan><tspan x="0" dy="9.95">Pesceana</tspan><tspan x="0" dy="9.95">Prundeni</tspan><tspan x="0" dy="9.95">Racovi|a</tspan><tspan x="0" dy="9.95">Roe]ti</tspan><tspan x="0" dy="9.95">Ro]iile</tspan><tspan x="0" dy="9.95">Runcu</tspan><tspan x="0" dy="9.95">Rm.V@lcea</tspan><tspan x="0" dy="9.95">Scundu</tspan><tspan x="0" dy="9.95">Sl`te]ti</tspan><tspan x="0" dy="9.95">Stoile]ti</tspan><tspan x="0" dy="9.95">}u]ani</tspan><tspan x="0" dy="9.95">Tetoiu</tspan><tspan x="0" dy="9.95">Vl`de]ti</tspan><tspan x="0" dy="9.95">Voice]ti</tspan><tspan x="0" dy="9.95">Voineasa</tspan><tspan x="0" dy="9.95">}tef`ne]ti</tspan><tspan x="0" dy="9.95">Z`treni</tspan><tspan x="0" dy="9.95">Tite]ti</tspan><tspan x="0" dy="9.95">ANIF-Filiala</tspan><tspan x="0" dy="9.95">Jud. Valcea</tspan></text>
</g>
<g id="cl-olt">
<rect class="bx ph" x="1155" y="690" width="260" height="18"/>
<rect class="bx wh" x="1155" y="708" width="260" height="320"/>
<line class="ln" x1="1223" y1="708" x2="1223" y2="1028"/>
<line class="ln" x1="1280" y1="708" x2="1280" y2="1028"/>
<line class="ln" x1="1347" y1="708" x2="1347" y2="1028"/>
<text class="c t105" x="1279" y="702">Comitete locale</text>
<text transform="translate(1158,716.5) scale(0.68,1)"><tspan x="0" y="0">B. H. Olt</tspan><tspan x="0" dy="9.95">Dobroteasa</tspan><tspan x="0" dy="9.95">Vulture]ti</tspan><tspan x="0" dy="9.95">Vergaleasa</tspan><tspan x="0" dy="9.95">Gradinari</tspan><tspan x="0" dy="9.95">Strejesti</tspan><tspan x="0" dy="9.95">Plesoiu</tspan><tspan x="0" dy="9.95">Curtisoara</tspan><tspan x="0" dy="9.95">Ganeasa</tspan><tspan x="0" dy="9.95">Slatina</tspan><tspan x="0" dy="9.95">Slatioara</tspan><tspan x="0" dy="9.95">Milcov</tspan><tspan x="0" dy="9.95">Ipotesti</tspan><tspan x="0" dy="9.95">Piatra Olt</tspan><tspan x="0" dy="9.95">Brancoveni</tspan><tspan x="0" dy="9.95">Osica de Sus</tspan><tspan x="0" dy="9.95">Coteana</tspan><tspan x="0" dy="9.95">Maruntei</tspan><tspan x="0" dy="9.95">Falcoiu</tspan><tspan x="0" dy="9.95">Draganesti-Olt</tspan><tspan x="0" dy="9.95">Farcasele</tspan><tspan x="0" dy="9.95">Stoenesti</tspan><tspan x="0" dy="9.95">Daneasa</tspan><tspan x="0" dy="9.95">Gostavatu</tspan><tspan x="0" dy="9.95">Sprancenata</tspan><tspan x="0" dy="9.95">Babiciu</tspan><tspan x="0" dy="9.95">Scarisoara</tspan><tspan x="0" dy="9.95">Rusanesti</tspan><tspan x="0" dy="9.95">Cilieni</tspan><tspan x="0" dy="9.95">Tia Mare</tspan><tspan x="0" dy="9.95">Izbiceni</tspan></text>
<text transform="translate(1225,716.5) scale(0.68,1)"><tspan x="0" y="0">Vitomiresti</tspan><tspan x="0" dy="9.95">Serbanesti</tspan><tspan x="0" dy="9.95">Leleasca</tspan><tspan x="0" dy="9.95">Cungrea</tspan><tspan x="0" dy="9.95">Oporelu</tspan><tspan x="0" dy="9.95">Teslui</tspan><tspan x="0" dy="9.95">Priseaca</tspan><tspan x="0" dy="9.95">Valea Mare</tspan><tspan x="0" dy="9.95">Brebeni</tspan><tspan x="0" dy="9.95">Balteni</tspan><tspan x="0" dy="9.95">Perieti</tspan><tspan x="0" dy="9.95">Schitu</tspan><tspan x="0" dy="9.95">Valcele</tspan><tspan x="0" dy="9.95">Izvoarele</tspan><tspan x="0" dy="9.95">Carlogani</tspan><tspan x="0" dy="9.95">Iancu-Jianu</tspan><tspan x="0" dy="9.95">Morunglav</tspan><tspan x="0" dy="9.95">Colonesti</tspan><tspan x="0" dy="9.95">Oboga</tspan><tspan x="0" dy="9.95">Bobicesti</tspan><tspan x="0" dy="9.95">Bals</tspan><tspan x="0" dy="9.95">Voineasa</tspan><tspan x="0" dy="9.95">Osica de Jos</tspan><tspan x="0" dy="9.95">Dobrun</tspan><tspan x="0" dy="9.95">Parscoveni</tspan><tspan x="0" dy="9.95">Soparlita</tspan><tspan x="0" dy="9.95">Dobretu</tspan><tspan x="0" dy="9.95">Barza</tspan><tspan x="0" dy="9.95">Vulpeni</tspan><tspan x="0" dy="9.95">Gavanesti</tspan><tspan x="0" dy="9.95">Baldovinesti</tspan></text>
<text transform="translate(1283,716.5) scale(0.68,1)"><tspan x="0" y="0">Cezieni</tspan><tspan x="0" dy="9.95">Dobrosloveni</tspan><tspan x="0" dy="9.95">Draghiceni</tspan><tspan x="0" dy="9.95">Caracal</tspan><tspan x="0" dy="9.95">Redea</tspan><tspan x="0" dy="9.95">Deveselu</tspan><tspan x="0" dy="9.95">Vladila</tspan><tspan x="0" dy="9.95">Traian</tspan><tspan x="0" dy="9.95">Studina</tspan><tspan x="0" dy="9.95">Gradinile</tspan><tspan x="0" dy="9.95">Bucinisu</tspan><tspan x="0" dy="9.95">Brastavatu</tspan><tspan x="0" dy="9.95">Obarsia</tspan><tspan x="0" dy="9.95">Vadastra</tspan><tspan x="0" dy="9.95">Visina Noua</tspan><tspan x="0" dy="9.95">Visina</tspan><tspan x="0" dy="9.95">Rotunda</tspan><tspan x="0" dy="9.95">Giuvarasti</tspan><tspan x="0" dy="9.95">Acumulare</tspan><tspan x="0" dy="9.95">Hidroelectrica SA</tspan><tspan x="0" dy="9.95">Sucursala Olt Ind.</tspan><tspan x="0" dy="9.95">Ac. Strejesti</tspan><tspan x="0" dy="9.95">Ac. Arcesti</tspan><tspan x="0" dy="9.95">Ac. Slatina</tspan><tspan x="0" dy="9.95">Ac. Ipotesti</tspan><tspan x="0" dy="9.95">Ac. Draganesti</tspan><tspan x="0" dy="9.95">Ac. Frunzaru</tspan><tspan x="0" dy="9.95">Ac. Rusanesti</tspan><tspan x="0" dy="9.95">Ac. Izbiceni</tspan></text>
<text transform="translate(1349,716.5) scale(0.68,1)"><tspan x="0" y="0">B. H. Dunare</tspan><tspan x="0" dy="9.95">Ianca</tspan><tspan x="0" dy="9.95">Grojdibodu</tspan><tspan x="0" dy="9.95">Gura Padinii</tspan><tspan x="0" dy="9.95">Orlea</tspan><tspan x="0" dy="9.95">Corabia</tspan><tspan x="0" dy="9.95">Garcov</tspan><tspan x="0" dy="9.95">Vadastrita</tspan><tspan x="0" dy="9.95">Urzica</tspan><tspan x="0" dy="9.95">Stefan cel Mare</tspan><tspan x="0" dy="9.95">A.N. I.F-Filiala</tspan><tspan x="0" dy="9.95">jud. OLT-</tspan><tspan x="0" dy="9.95">Caracal</tspan></text>
</g>
</svg>
